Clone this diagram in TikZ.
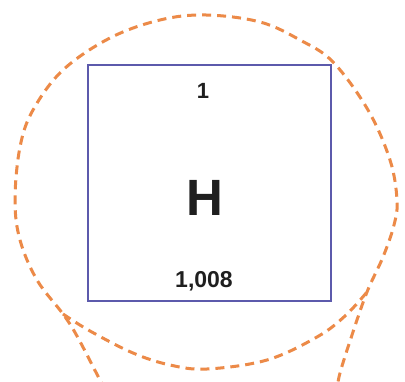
\documentclass[tikz,border=0pt]{standalone}
\usepackage{fontspec}
\setmainfont{Liberation Sans}
\definecolor{loop}{RGB}{236,138,72}
\definecolor{boxblue}{RGB}{92,90,172}
\tikzset{
  loopline/.style={draw=loop, line width=3pt, dash pattern=on 9pt off 6pt, line cap=butt},
  cell/.style={draw=boxblue, line width=2.6pt, minimum width=243pt, minimum height=236pt, inner sep=0pt},
  txt/.style={font=\bfseries, text=black!88, inner sep=0pt}
}
\begin{document}
\begin{tikzpicture}[x=1pt,y=-1pt]
\useasboundingbox[fill=white] (0,0) rectangle (405,382);
% element box
\node[cell] (box) at (209.5,183) {};
\node[txt, font=\bfseries\fontsize{22}{24}\selectfont] (num) at (203,91) {1};
\node[txt, font=\bfseries\fontsize{51}{54}\selectfont] (sym) at (205,198) {H};
\node[txt, font=\bfseries\fontsize{23}{25}\selectfont] (mass) at (204,281) {1,008};
% dashed loop with tails
\draw[loopline] plot[smooth, tension=0.6] coordinates {
  (106,390) (100,380) (77,336) (63,314) (37,280) (20,240) (15,200) (20,147) (33,110)
  (63,70) (110,38) (160,20) (206,15) (260,22) (300,40) (333,62) (368,110) (390,160)
  (397,200) (394,225) (383,257) (367,292) (352,335) (340,373) (337,390)};
\draw[loopline] plot[smooth, tension=0.6] coordinates {
  (63,314) (90,331) (133,353) (170,365) (207,369) (267,360) (317,337) (345,316) (367,292)};
\end{tikzpicture}
\end{document}
